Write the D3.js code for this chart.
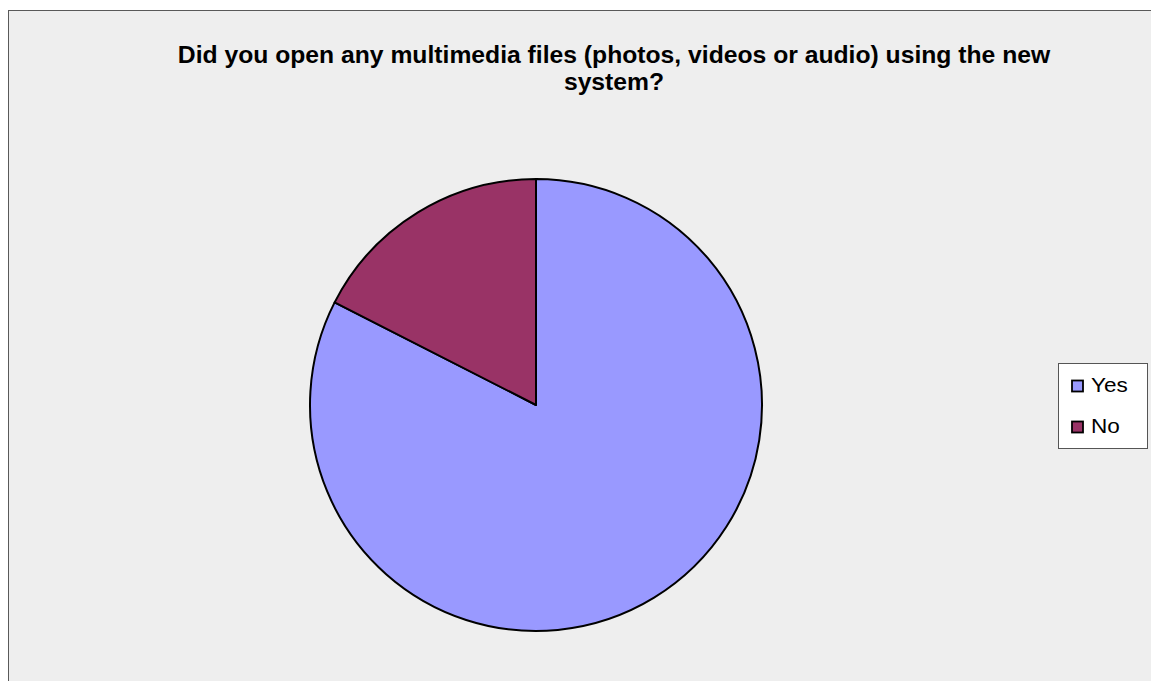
<!DOCTYPE html>
<html><head><meta charset="utf-8">
<script src="https://cdn.jsdelivr.net/npm/d3@7"></script>
<style>body{margin:0;background:#fff;}svg{display:block;font-family:"Liberation Sans",Arial,sans-serif;}</style>
</head><body>
<svg id="c" width="1151" height="681"></svg>
<script>
const categories = ["Yes", "No"];
const values = [82.5, 17.5];
const colors = ["#9999ff", "#993366"];
const titleLines = ["Did you open any multimedia files (photos, videos or audio) using the new", "system?"];

const svg = d3.select("#c");
svg.append("rect").attr("x", 8.5).attr("y", 10.5).attr("width", 1160).attr("height", 700)
  .attr("fill", "#eeeeee").attr("stroke", "#595959").attr("stroke-width", 1);

const t = svg.append("text").attr("text-anchor", "middle").attr("font-weight", "bold")
  .attr("font-size", 24.7).attr("fill", "#000");
titleLines.forEach((l, i) => t.append("tspan").attr("x", 614).attr("y", 63 + i * 27).text(l));

const cx = 536, cy = 405, r = 226;
const pie = d3.pie().sort(null).value(d => d)(values);
const arc = d3.arc().innerRadius(0).outerRadius(r);
svg.append("g").attr("transform", `translate(${cx},${cy})`)
  .selectAll("path").data(pie).join("path")
  .attr("d", arc).attr("fill", (d, i) => colors[i])
  .attr("stroke", "#000").attr("stroke-width", 2).attr("stroke-linejoin", "round");

const lg = svg.append("g");
lg.append("rect").attr("x", 1058.5).attr("y", 363.5).attr("width", 89).attr("height", 85)
  .attr("fill", "#fff").attr("stroke", "#555").attr("stroke-width", 1);
categories.forEach((c, i) => {
  const y = 386 + i * 41;
  lg.append("rect").attr("x", 1072).attr("y", y - 5.5).attr("width", 11).attr("height", 11)
    .attr("fill", colors[i]).attr("stroke", "#000").attr("stroke-width", 1.8);
  lg.append("text").attr("transform", `translate(1091,${y + 6}) scale(1.1,1)`)
    .attr("font-size", 20.5).text(c);
});
</script>
</body></html>
